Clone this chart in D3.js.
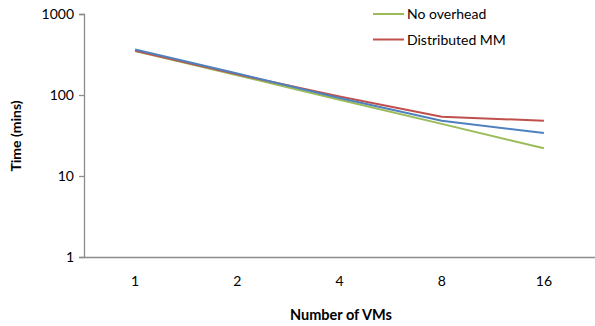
<!DOCTYPE html>
<html>
<head>
<meta charset="utf-8">
<script src="https://cdn.jsdelivr.net/npm/d3@7"></script>
<style>
  body { margin: 0; background: #fff; }
  text { font-family: Lato, "Open Sans", sans-serif; fill: #000; }
</style>
</head>
<body>
<div id="chart"></div>
<script>
// Data
const vms = ["1", "2", "4", "8", "16"];
const noOverhead = [350, 175, 87.5, 44, 22];
const distributedMM = [352, 180, 96, 54, 48];
const thirdSeries = [365, 184, 92, 48, 34];
const yTicks = [1, 10, 100, 1000];

const width = 595;
const height = 326;
const margin = { top: 14, right: 0, bottom: 69, left: 84 };

const svg = d3
  .select("#chart")
  .append("svg")
  .attr("width", width)
  .attr("height", height);

const x = d3
  .scaleBand()
  .domain(vms)
  .range([margin.left, width - margin.right]);

const y = d3
  .scaleLog()
  .domain([1, 1000])
  .range([height - margin.bottom, margin.top]);

// Y axis
const yAxis = svg
  .append("g")
  .attr("transform", `translate(${margin.left},0)`)
  .call(
    d3.axisLeft(y).tickValues(yTicks).tickFormat(d3.format("d")).tickSize(5).tickPadding(5)
  );
yAxis.select(".domain").attr("stroke", "#8c8c8c").attr("stroke-width", 1.3);
yAxis.selectAll(".tick line").attr("stroke", "#8c8c8c").attr("stroke-width", 1.3);
yAxis.selectAll("text").style("font-size", "14px").style("font-family", "Lato, sans-serif");

// X axis
const xAxis = svg
  .append("g")
  .attr("transform", `translate(0,${height - margin.bottom})`)
  .call(d3.axisBottom(x).tickSize(0).tickPadding(19));
xAxis.select(".domain").attr("stroke", "#8c8c8c").attr("stroke-width", 1.3);
xAxis.selectAll("text").style("font-size", "14px").style("font-family", "Lato, sans-serif");

// Axis titles
svg
  .append("text")
  .attr("x", 341)
  .attr("y", 320)
  .attr("text-anchor", "middle")
  .style("font-size", "14.5px")
  .style("font-weight", "bold")
  .text("Number of VMs");

svg
  .append("text")
  .attr("transform", `translate(21, 136) rotate(-90)`)
  .attr("text-anchor", "middle")
  .style("font-size", "14px")
  .style("font-weight", "bold")
  .text("Time (mins)");

// Lines
const line = d3
  .line()
  .x((d, i) => x(vms[i]) + x.bandwidth() / 2)
  .y((d) => y(d));

const series = [
  { name: "No overhead", values: noOverhead, color: "#9bbb59" },
  { name: "Distributed MM", values: distributedMM, color: "#c0504d" },
  { name: "", values: thirdSeries, color: "#4f81bd" },
];

svg
  .selectAll(".series")
  .data(series)
  .enter()
  .append("path")
  .attr("class", "series")
  .attr("fill", "none")
  .attr("stroke", (d) => d.color)
  .attr("stroke-width", 2)
  .attr("stroke-linejoin", "round")
  .attr("d", (d) => line(d.values));

// Legend (only the named series)
const legend = svg
  .append("g")
  .attr("transform", "translate(373, 14)");
const legendItem = legend
  .selectAll(".legend-item")
  .data(series.filter((d) => d.name))
  .enter()
  .append("g")
  .attr("class", "legend-item")
  .attr("transform", (d, i) => `translate(0, ${i * 25.5})`);
legendItem
  .append("line")
  .attr("x1", 0)
  .attr("x2", 31)
  .attr("stroke", (d) => d.color)
  .attr("stroke-width", 2);
legendItem
  .append("text")
  .attr("x", 34)
  .attr("y", 5)
  .style("font-size", "14px")
  .text((d) => d.name);
</script>
</body>
</html>
